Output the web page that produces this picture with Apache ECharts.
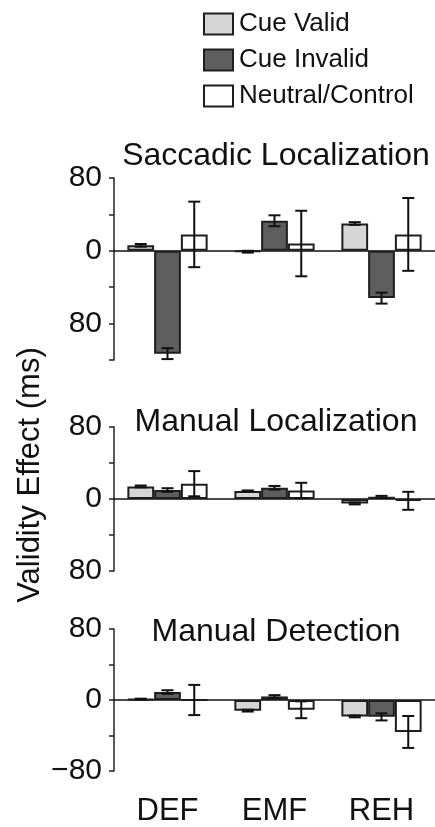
<!DOCTYPE html>
<html>
<head>
<meta charset="utf-8">
<script src="https://cdn.jsdelivr.net/npm/echarts@6/dist/echarts.min.js"></script>
<style>
  html, body { margin: 0; padding: 0; background: #fff; }
  #chart { width: 435px; height: 827px; }
</style>
</head>
<body>
<div id="chart"></div>
<script>
// 数据
const categories = ['DEF', 'EMF', 'REH'];
const seriesNames = ['Cue Valid', 'Cue Invalid', 'Neutral/Control'];
const panelTitles = ['Saccadic Localization', 'Manual Localization', 'Manual Detection'];

// Saccadic Localization
const saccValid = [6, -1, 30];
const saccValidErr = [1.5, 1, 1.5];
const saccInvalid = [-113, 33, -52];
const saccInvalidErr = [6, 6, 6];
const saccNeutral = [18, 8, 18];
const saccNeutralErr = [36, 36, 40];

// Manual Localization
const locValid = [14, 9, -5];
const locValidErr = [1, 0.5, 1];
const locInvalid = [10, 12.5, 2.5];
const locInvalidErr = [2, 2, 1];
const locNeutral = [17, 9.5, -2];
const locNeutralErr = [14, 8.5, 10];

// Manual Detection
const detValid = [1, -12, -18.5];
const detValidErr = [0.5, 1, 1];
const detInvalid = [9, 4, -19];
const detInvalidErr = [2, 1.5, 4];
const detNeutral = [0, -11, -36];
const detNeutralErr = [17, 9.5, 18];

// y 轴刻度
const yMins = [-120, -80, -80];
const yMax = 80;
const yTickValues = [80, 0, -80];
const yTickLabels = [['80', '0', '80'], ['80', '0', '80'], ['80', '0', '\u221280']];
const yAxisTitle = 'Validity Effect (ms)';

const panels = [
    { means: [saccValid, saccInvalid, saccNeutral], errs: [saccValidErr, saccInvalidErr, saccNeutralErr] },
    { means: [locValid, locInvalid, locNeutral], errs: [locValidErr, locInvalidErr, locNeutralErr] },
    { means: [detValid, detInvalid, detNeutral], errs: [detValidErr, detInvalidErr, detNeutralErr] }
];

const FONT = '"Liberation Sans", Arial, sans-serif';
const colors = ['#d6d6d6', '#5e5e5e', '#ffffff'];
const edge = '#1e1e1e';

// 布局
const grids = [
    { left: 114, top: 178, width: 330, height: 182 },
    { left: 114, top: 427, width: 330, height: 144 },
    { left: 114, top: 629, width: 330, height: 144 }
];
const titleY = [156, 422, 632];

let xAxes = [], yAxes = [], series = [], graphics = [];

grids.forEach((g, p) => {
    xAxes.push({
        type: 'category',
        gridIndex: p,
        data: categories,
        axisLine: { onZero: true, lineStyle: { color: '#111', width: 1.5 } },
        axisTick: { show: false },
        axisLabel: { show: false }
    });
    yAxes.push({
        type: 'value',
        gridIndex: p,
        min: yMins[p],
        max: yMax,
        interval: 40,
        splitLine: { show: false },
        axisLine: { show: true, onZero: false, lineStyle: { color: '#222', width: 1.5 } },
        axisTick: { show: true, length: 5, lineStyle: { color: '#222', width: 1.5 } },
        axisLabel: {
            fontFamily: FONT,
            fontSize: 30,
            color: '#111',
            margin: 12,
            formatter: function (v) {
                let i = yTickValues.indexOf(v);
                return i >= 0 ? yTickLabels[p][i] : '';
            }
        }
    });

    let panel = panels[p];
    for (let s = 0; s < 3; s++) {
        series.push({
            name: seriesNames[s],
            type: 'bar',
            xAxisIndex: p,
            yAxisIndex: p,
            data: panel.means[s],
            barGap: '0%',
            barCategoryGap: '25%',
            itemStyle: { color: colors[s], borderColor: edge, borderWidth: 2 },
            emphasis: { disabled: true },
            silent: true
        });
    }
    // 误差线
    for (let s = 0; s < 3; s++) {
        let errData = [];
        for (let c = 0; c < categories.length; c++) {
            errData.push([c, panel.means[s][c], panel.errs[s][c]]);
        }
        series.push({
            type: 'custom',
            xAxisIndex: p,
            yAxisIndex: p,
            silent: true,
            z: 5,
            data: errData,
            renderItem: function (params, api) {
                let c = api.value(0);
                let m = api.value(1);
                let e = api.value(2);
                let band = api.size([1, 0])[0];
                let x = api.coord([c, m])[0] + (s - 1) * band * 0.25;
                let yTop = api.coord([c, m + e])[1];
                let yBot = api.coord([c, m - e])[1];
                let cap = 6;
                let st = { stroke: '#111', lineWidth: 2 };
                return {
                    type: 'group',
                    children: [
                        { type: 'line', shape: { x1: x, y1: yTop, x2: x, y2: yBot }, style: st },
                        { type: 'line', shape: { x1: x - cap, y1: yTop, x2: x + cap, y2: yTop }, style: st },
                        { type: 'line', shape: { x1: x - cap, y1: yBot, x2: x + cap, y2: yBot }, style: st }
                    ]
                };
            }
        });
    }

    graphics.push({
        type: 'text',
        x: 276,
        y: titleY[p],
        style: {
            text: panelTitles[p],
            font: '32px ' + FONT,
            fill: '#111',
            textAlign: 'center',
            textVerticalAlign: 'middle'
        }
    });
});

// 底部类别标签
xAxes.push({
    type: 'category',
    gridIndex: 2,
    position: 'bottom',
    data: categories,
    axisLine: { show: false, onZero: false },
    axisTick: { show: false },
    axisLabel: { fontFamily: FONT, fontSize: 31, color: '#111', margin: 25 }
});

graphics.push({
    type: 'text',
    x: 30,
    y: 475,
    rotation: Math.PI / 2,
    style: {
        text: yAxisTitle,
        font: '31px ' + FONT,
        fill: '#111',
        textAlign: 'center',
        textVerticalAlign: 'middle'
    }
});

let option = {
    animation: false,
    backgroundColor: '#fff',
    legend: {
        orient: 'vertical',
        left: 198,
        top: 6,
        itemWidth: 29,
        itemHeight: 21,
        itemGap: 10,
        selectedMode: false,
        data: seriesNames.map((n, i) => ({
            name: n,
            icon: 'rect',
            itemStyle: { color: colors[i], borderColor: edge, borderWidth: 2 }
        })),
        textStyle: { fontFamily: FONT, fontSize: 26, color: '#111', padding: [0, 0, 0, 1] }
    },
    grid: grids,
    xAxis: xAxes,
    yAxis: yAxes,
    series: series,
    graphic: graphics
};

window.echarts.init(document.getElementById('chart')).setOption(option);
</script>
</body>
</html>
